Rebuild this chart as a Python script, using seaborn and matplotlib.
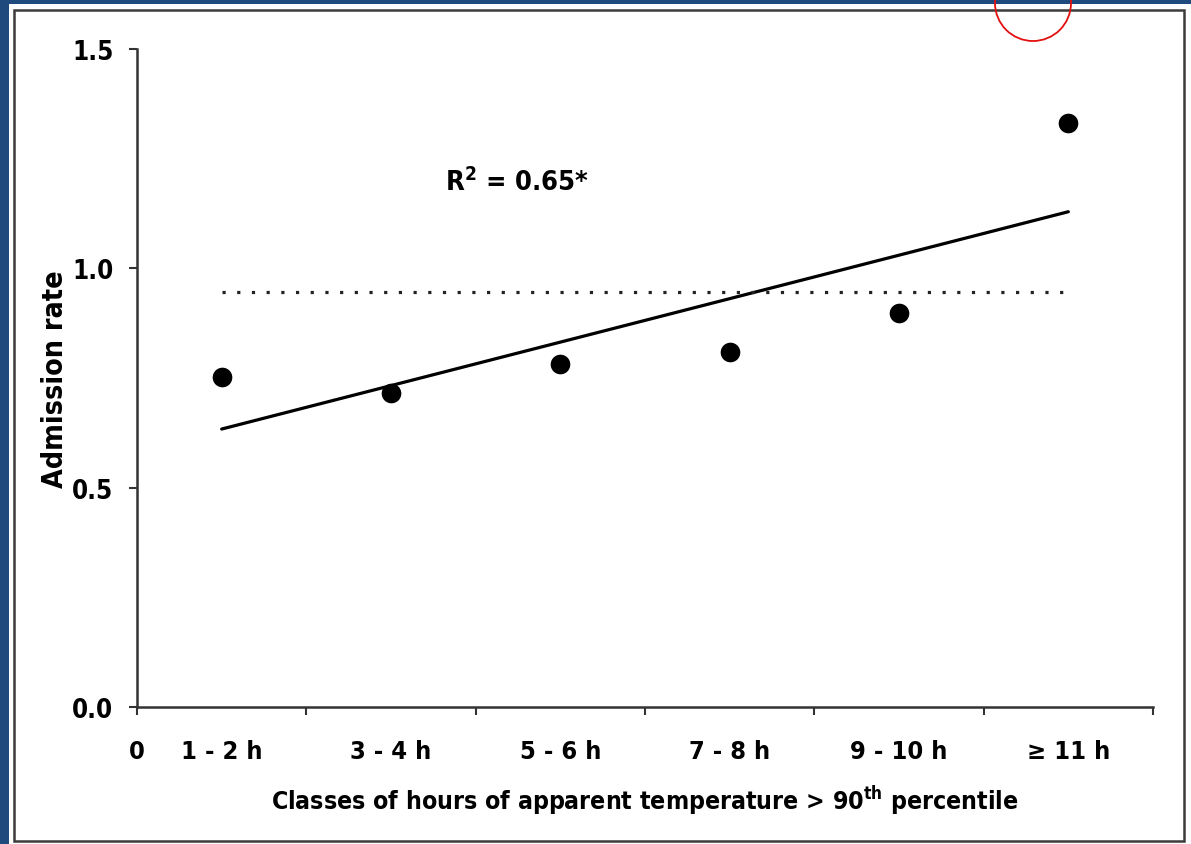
import numpy as np
import pandas as pd
import matplotlib
matplotlib.use("Agg")
import matplotlib.pyplot as plt
from matplotlib.patches import Rectangle, Ellipse
import seaborn as sns

# Hour classes and mean admission rate in each class
categories = ["1 - 2 h", "3 - 4 h", "5 - 6 h", "7 - 8 h", "9 - 10 h", "\u2265 11 h"]
admission_rate = [0.752, 0.716, 0.782, 0.809, 0.898, 1.331]
reference_rate = 0.946
r2_label = "R$^{2}$ = 0.65*"

x_pos = np.arange(len(categories)) + 0.5
df = pd.DataFrame({"x": x_pos, "rate": admission_rate, "cls": categories})

sns.set_theme(style="white")
plt.rcParams["font.family"] = ["DejaVu Sans"]
plt.rcParams["font.stretch"] = "condensed"
plt.rcParams["font.weight"] = "bold"
plt.rcParams["mathtext.default"] = "regular"
plt.rcParams["text.color"] = "black"
plt.rcParams["axes.labelcolor"] = "black"
plt.rcParams["xtick.color"] = "black"
plt.rcParams["ytick.color"] = "black"

W, H = 1191, 845
fig = plt.figure(figsize=(W / 100, H / 100), dpi=100)
fig.patch.set_facecolor("white")

# Outer frame: blue strips and grey panel border
blue = "#1f4a7e"
fig.add_artist(Rectangle((0, 0), 9 / W, 1, transform=fig.transFigure, color=blue, lw=0, zorder=0))
fig.add_artist(Rectangle((0, 1 - 5 / H), 1, 5 / H, transform=fig.transFigure, color=blue, lw=0, zorder=0))
fig.add_artist(Rectangle((14 / W, 1 - 842 / H), (1184 - 14) / W, (842 - 11) / H,
                         transform=fig.transFigure, fill=False, ec="#3c3c3c", lw=1.8, zorder=1))

ax = fig.add_axes([137 / W, 1 - 708 / H, (1153 - 137) / W, (708 - 50) / H])
ax.set_facecolor("none")

# Regression line (least squares fit over the classes)
sns.regplot(data=df, x="x", y="rate", scatter=False, ci=None, ax=ax,
            line_kws={"color": "black", "lw": 2.3})
# Reference level
sns.lineplot(x=[x_pos[0], x_pos[-1]], y=[reference_rate, reference_rate], ax=ax,
             color="#222222", lw=2.3, linestyle=(0, (1, 3.6)))
# Class means
sns.scatterplot(data=df, x="x", y="rate", ax=ax, color="black", s=200,
                edgecolor="black", linewidth=0, zorder=5)

ax.text(2.24, 1.197, r2_label, ha="center", va="center", fontsize=19.5, fontweight="bold")

ax.set_xlim(0, 6)
ax.set_ylim(0, 1.5)
ax.set_yticks([0, 0.5, 1.0, 1.5])
ax.set_yticklabels(["0.0", "0.5", "1.0", "1.5"])
ax.set_xticks(np.arange(7))
ax.set_xticklabels(["0"] + [""] * 6)
ax.set_xticks(x_pos, minor=True)
ax.set_xticklabels(categories, minor=True)

for s in ["top", "right"]:
    ax.spines[s].set_visible(False)
for s in ["left", "bottom"]:
    ax.spines[s].set_color("#333333")
    ax.spines[s].set_linewidth(1.8)

ax.tick_params(axis="y", which="major", direction="out", length=6, width=1.5,
               color="#333333", pad=11, labelsize=18.5, left=True)
ax.tick_params(axis="x", which="major", direction="out", length=6, width=1.5,
               color="#333333", pad=17, labelsize=18.3, bottom=True)
ax.tick_params(axis="x", which="minor", length=0, pad=23, labelsize=18.3)
for lbl in ax.get_xticklabels(which="both") + ax.get_yticklabels():
    lbl.set_fontweight("bold")

ax.set_xlabel("Classes of hours of apparent temperature > 90$^{\\mathrm{th}}$ percentile",
              fontsize=17.8, fontweight="bold", labelpad=15)
ax.set_ylabel("Admission rate", fontsize=20.5, fontweight="bold", labelpad=2)

# Red circle marker near the top edge
fig.add_artist(Ellipse((1033 / W, 1 - 4 / H), 76 / W, 76 / H, transform=fig.transFigure,
                       fill=False, ec="#e41010", lw=1.3, zorder=10))

fig.savefig("out.png", dpi=100)
